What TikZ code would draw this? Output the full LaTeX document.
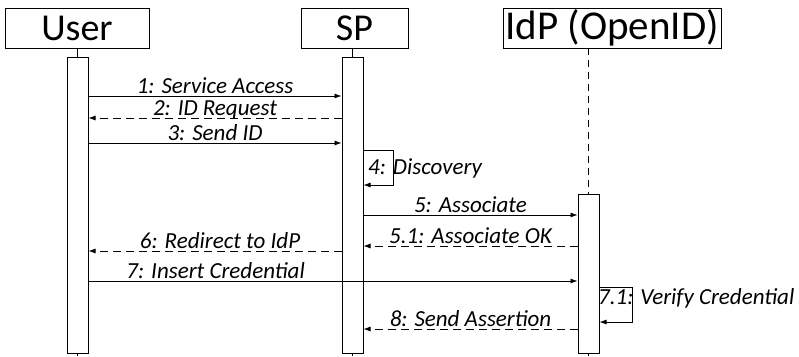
\documentclass[tikz,border=0pt]{standalone}
\usepackage{fontspec}
\setmainfont{Carlito}
\usetikzlibrary{positioning,arrows.meta,calc}

\tikzset{
  actor/.style={draw,line width=1pt,inner sep=0pt,minimum height=40pt,font=\fontsize{38}{40}\selectfont},
  actbar/.style={draw,fill=white,line width=1pt,minimum width=21pt,inner sep=0pt},
  msg/.style={-{Latex[length=7pt,width=5pt]},line width=0.8pt},
  reply/.style={msg,dash pattern=on 8pt off 5pt},
  lbl/.style={font=\fontsize{23}{25}\selectfont\itshape,anchor=base,yshift=3pt,inner sep=0pt},
}

\begin{document}
\begin{tikzpicture}[x=1pt,y=-1pt]
    \useasboundingbox (0,0) rectangle (799,356);
    % participants
    \node[actor,minimum width=144pt] (user) at (77,28) {User};
    \node[actor,minimum width=107pt] (sp) at (354.5,28) {SP};
    \node[actor,minimum width=218pt,font=\fontsize{41}{42}\selectfont] (idp) at (612,28) {IdP (OpenID)};
    % lifelines
    \draw[line width=0.8pt] (user.south) -- (77,356);
    \draw[line width=0.8pt] (352.5,48) -- (352.5,356);
    \draw[line width=0.8pt,dash pattern=on 7pt off 5pt] (588.5,48) -- (588.5,194);
    \draw[line width=0.8pt] (588.5,194) -- (588.5,356);
    % activations
    \node[actbar,minimum height=296pt] (userbar) at (77.5,205) {};
    \node[actbar,minimum height=296pt] (spbar) at (352.5,205) {};
    \node[actbar,minimum height=159pt] (idpbar) at (588.5,273.5) {};
    % messages
    \draw[msg] (userbar.east |- 0,96) -- (spbar.west |- 0,96) node[lbl,pos=.5] {1: Service Access};
    \draw[reply] (spbar.west |- 0,118) -- (userbar.east |- 0,118) node[lbl,pos=.5] {2: ID Request};
    \draw[msg] (userbar.east |- 0,143) -- (spbar.west |- 0,143) node[lbl,pos=.5] {3: Send ID};
    \draw[msg] (spbar.east |- 0,150) -- ++(30,0) -- ++(0,35) -- (spbar.east |- 0,185);
    \node[lbl,anchor=base west,yshift=0pt] (disc) at (368,177) {4: Discovery};
    \draw[msg] (spbar.east |- 0,215) -- (idpbar.west |- 0,215) node[lbl,pos=.5] {5: Associate};
    \draw[reply] (idpbar.west |- 0,246) -- (spbar.east |- 0,246) node[lbl,pos=.5] {5.1: Associate OK};
    \draw[reply] (spbar.west |- 0,251) -- (userbar.east |- 0,251) node[lbl,pos=.48] {6: Redirect to IdP};
    \draw[msg] (userbar.east |- 0,281) -- (idpbar.west |- 0,281) node[lbl,pos=.26] {7: Insert Credential};
    \draw[msg] (idpbar.east |- 0,287) -- ++(33,0) -- ++(0,35) -- (idpbar.east |- 0,322);
    \node[lbl,anchor=base west,yshift=0pt] (verify) at (598,307) {7.1: Verify Credential};
    \draw[reply] (idpbar.west |- 0,329) -- (spbar.east |- 0,329) node[lbl,pos=.5] {8: Send Assertion};
\end{tikzpicture}
\end{document}
